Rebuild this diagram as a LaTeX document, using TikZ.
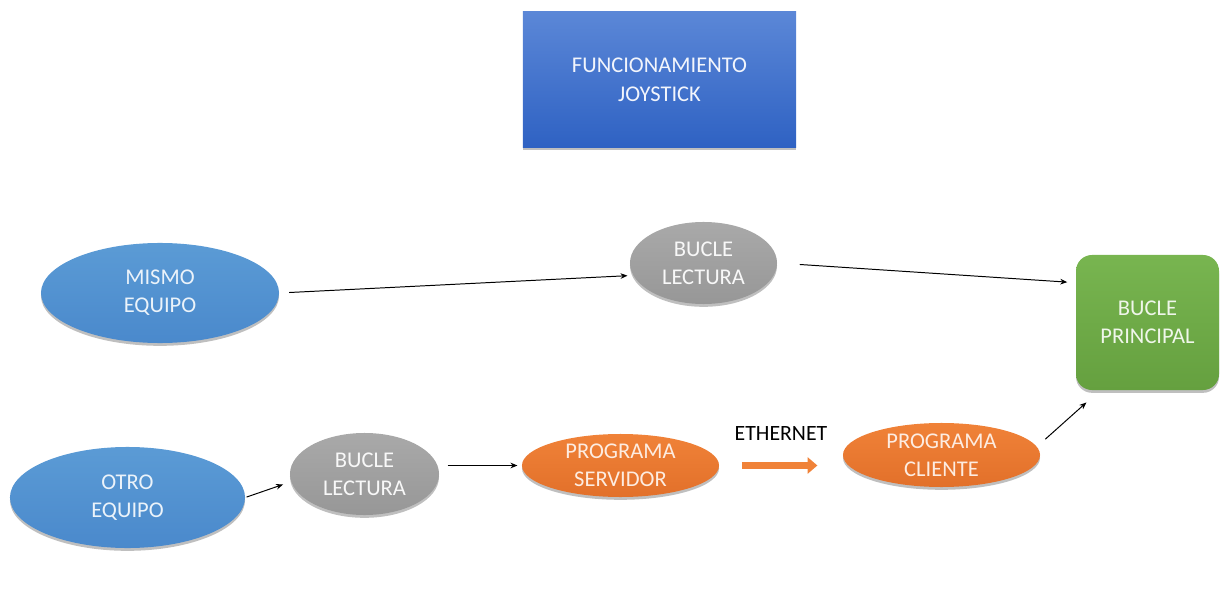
\documentclass[tikz,border=0pt]{standalone}
\usepackage{fontspec}
\setmainfont{Carlito}
\usetikzlibrary{shapes.geometric,arrows.meta,shadows,calc}
\definecolor{azul}{HTML}{5B9BD5}
\definecolor{azulosc}{HTML}{4A89CC}
\definecolor{gris}{HTML}{A9A9A9}
\definecolor{grisosc}{HTML}{979797}
\definecolor{naranja}{HTML}{F08238}
\definecolor{naranjaosc}{HTML}{E2702A}
\definecolor{verde}{HTML}{78B550}
\definecolor{verdeosc}{HTML}{65A03F}
\definecolor{titarr}{HTML}{5B87D7}
\definecolor{titab}{HTML}{2F62C3}
\tikzset{
  sombra/.style={drop shadow={shadow xshift=0pt,shadow yshift=-2pt,opacity=.25,fill=black}},
  elip/.style={ellipse,inner sep=0pt,align=center,sombra,
    font=\fontsize{16pt}{20pt}\selectfont},
  flecha/.style={-{Stealth[length=5pt,width=4pt]},line width=0.7pt},
}
\begin{document}
\begin{tikzpicture}[x=0.025cm,y=-0.025cm]
    \useasboundingbox (0,0) rectangle (1220,589);
    \node (tit) at (659.5,79.5) [rectangle,top color=titarr,bottom color=titab,
      minimum width=6.825cm,minimum height=3.375cm,sombra,text=white!92!titarr,
      align=center,font=\fontsize{16pt}{20.5pt}\selectfont] {FUNCIONAMIENTO\\JOYSTICK};
    \node (ME) at (160,293) [elip,top color=azul,bottom color=azulosc,
      minimum width=5.95cm,minimum height=2.5cm,text=white!88!azul] {MISMO\\EQUIPO};
    \node (OE) at (127.5,497.5) [elip,top color=azul,bottom color=azulosc,
      minimum width=5.875cm,minimum height=2.525cm,text=white!88!azul] {OTRO\\EQUIPO};
    \node (BL1) at (703.5,263) [elip,top color=gris,bottom color=grisosc,
      minimum width=3.675cm,minimum height=2.05cm,text=white!92!gris] {BUCLE\\LECTURA};
    \node (BL2) at (364.5,474) [elip,top color=gris,bottom color=grisosc,
      minimum width=3.725cm,minimum height=2.05cm,text=white!92!gris] {BUCLE\\LECTURA};
    \node (PS) at (620.5,465.5) [elip,top color=naranja,bottom color=naranjaosc,
      minimum width=4.925cm,minimum height=1.575cm,text=white!85!naranja] {PROGRAMA\\SERVIDOR};
    \node (PC) at (941.5,455) [elip,top color=naranja,bottom color=naranjaosc,
      minimum width=4.925cm,minimum height=1.6cm,text=white!85!naranja] {PROGRAMA\\CLIENTE};
    \node (BP) at (1147.5,322.5) [rectangle,rounded corners=0.4cm,top color=verde,
      bottom color=verdeosc,minimum width=3.575cm,minimum height=3.375cm,sombra,
      text=white!88!verde,align=center,font=\fontsize{16pt}{20pt}\selectfont] {BUCLE\\PRINCIPAL};
    % conexiones
    \draw[flecha,shorten <=7pt,shorten >=4pt] (ME.east) -- (BL1.190);
    \draw[flecha,shorten <=16pt,shorten >=6pt] (BL1.east) -- (BP.151);
    \draw[flecha,shorten <=1pt,shorten >=6pt] (OE.east) -- (BL2.186);
    \draw[flecha,shorten <=6pt,shorten >=3pt] (BL2.east |- PS.west) -- (PS.west);
    \draw[flecha,shorten <=8pt,shorten >=13pt] (PC.5) -- (BP.235);
    \draw[-{Triangle[length=7pt,width=11.5pt]},naranja,line width=5.5pt,
      shorten <=16pt,shorten >=18pt] (PS.east) -- (PS.east -| PC.west)
      node (eth) [midway,above=12pt,text=black,font=\fontsize{15.5pt}{19pt}\selectfont] {ETHERNET};
\end{tikzpicture}
\end{document}
